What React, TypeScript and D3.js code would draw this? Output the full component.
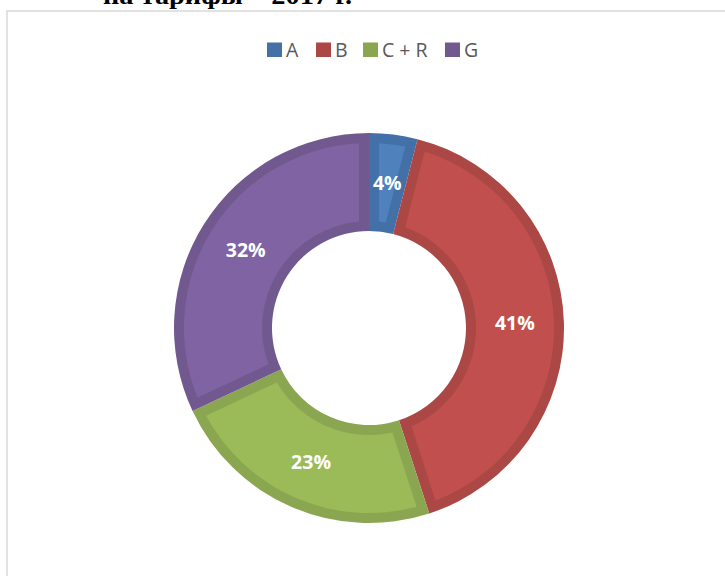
import React from "react";
import * as d3 from "d3";

const categories = ["A", "B", "C + R", "G"];
const values = [4, 41, 23, 32];
const lightColors = ["#4f81bd", "#c0504d", "#9bbb59", "#8064a2"];
const darkColors = ["#4470a8", "#ab4744", "#8aa650", "#71598f"];
const titleText = "на тарифы – 2017 г.";

const W = 725;
const H = 576;
const cx = 369;
const cy = 328;
const rOuter = 195;
const rInner = 97;
const band = 10;

export default function App() {
  const pie = d3
    .pie<number>()
    .sort(null)
    .value((d) => d)
    .startAngle(0)
    .endAngle(2 * Math.PI);
  const arcs = pie(values);
  const outerArc = d3.arc<d3.PieArcDatum<number>>().innerRadius(rInner).outerRadius(rOuter);
  const insetArc = d3
    .arc<d3.PieArcDatum<number>>()
    .innerRadius(rInner + band)
    .outerRadius(rOuter - band)
    .padRadius(100)
    .padAngle((band * 2) / 100);
  const labelArc = d3.arc<d3.PieArcDatum<number>>().innerRadius(146).outerRadius(146);

  const legendX = [267, 316, 363, 445];

  return (
    <svg
      width={W}
      height={H}
      style={{ position: "absolute", left: 0, top: 0, background: "#fff" }}
    >
      <defs>
        <filter id="soft" x="-10%" y="-10%" width="120%" height="120%">
          <feGaussianBlur stdDeviation="0.6" />
        </filter>
      </defs>
      <text
        x={103}
        y={4}
        fontFamily="'Liberation Serif', 'Times New Roman', serif"
        fontWeight="bold"
        fontSize={26}
        textLength={249}
        lengthAdjust="spacingAndGlyphs"
        fill="#000"
      >
        {titleText}
      </text>
      <rect x={7} y={11} width={740} height={600} fill="#fff" stroke="#d9d9d9" strokeWidth={1.5} />
      {categories.map((c, i) => (
        <g key={c}>
          <rect x={legendX[i]} y={42.5} width={15} height={14.5} fill={darkColors[i]} />
          <text
            x={legendX[i] + 19}
            y={56.5}
            fontFamily="'Open Sans', sans-serif"
            fontSize={19.5}
            fill="#595959"
          >
            {c}
          </text>
        </g>
      ))}
      <g transform={`translate(${cx},${cy})`}>
        {arcs.map((a, i) => (
          <path key={"o" + i} d={outerArc(a) || ""} fill={darkColors[i]} />
        ))}
        {arcs.map((a, i) => (
          <path key={"i" + i} d={insetArc(a) || ""} fill={lightColors[i]} filter="url(#soft)" />
        ))}
        {arcs.map((a, i) => {
          const [x, y] = labelArc.centroid(a);
          return (
            <text
              key={"l" + i}
              x={x}
              y={y}
              dy="0.36em"
              textAnchor="middle"
              fontFamily="'Open Sans', sans-serif"
              fontWeight="bold"
              fontSize={19.5}
              fill="#fff"
            >
              {values[i]}%
            </text>
          );
        })}
      </g>
    </svg>
  );
}
